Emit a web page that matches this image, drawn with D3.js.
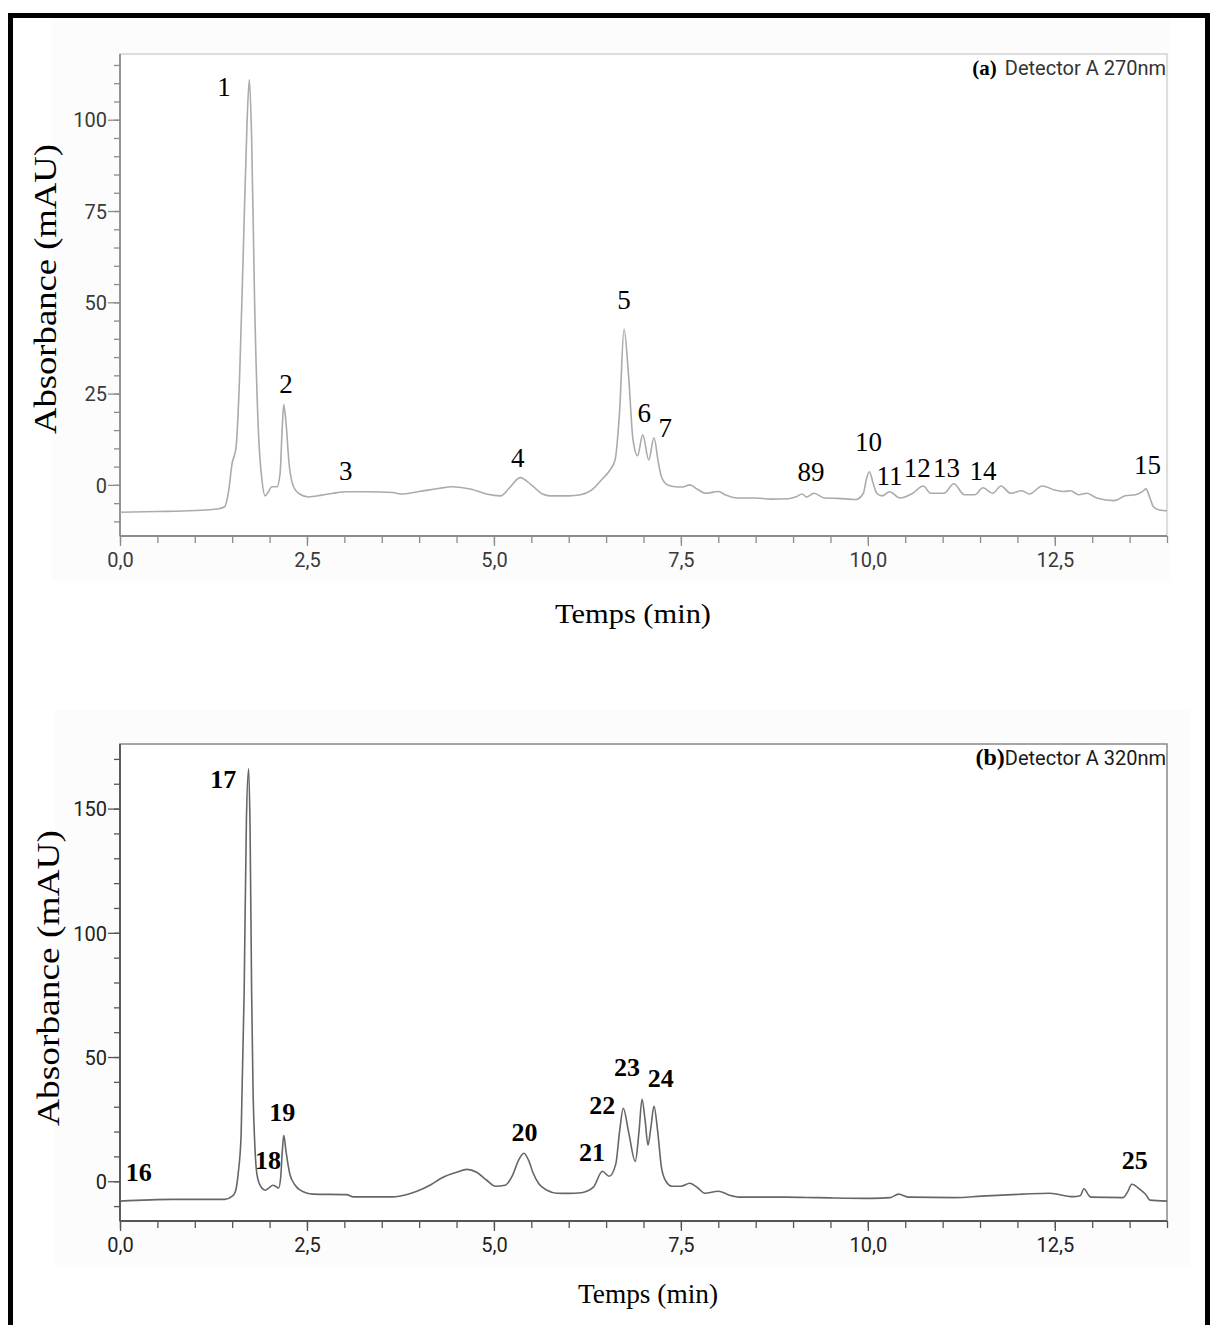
<!DOCTYPE html>
<html>
<head>
<meta charset="utf-8">
<script src="https://cdn.jsdelivr.net/npm/d3@7"></script>
<style>
  body { margin: 0; background: #fff; }
  svg { display: block; }
</style>
</head>
<body>
<div id="chart"></div>
<script>
// ---- data ----
// panel (a) : detector A 270 nm
var timeA = [0,0.5,1.0,1.3,1.40,1.45,1.50,1.55,1.60,1.65,1.70,1.73,1.76,1.80,1.85,1.90,1.94,1.98,2.03,2.10,
  2.14,2.17,2.19,2.22,2.26,2.32,2.40,2.52,2.70,2.85,3.03,3.3,3.65,3.75,4.0,4.25,4.44,4.7,4.9,5.09,
  5.2,5.35,5.5,5.65,5.75,6.0,6.16,6.3,6.44,6.55,6.62,6.68,6.74,6.80,6.86,6.92,6.99,7.07,7.14,7.20,
  7.24,7.32,7.42,7.52,7.62,7.72,7.83,8.0,8.1,8.25,8.5,8.7,8.94,9.05,9.12,9.18,9.28,9.42,9.6,9.84,
  9.94,9.98,10.02,10.07,10.12,10.19,10.29,10.43,10.6,10.74,10.84,11.02,11.15,11.29,11.43,11.54,11.67,11.78,11.91,12.06,
  12.16,12.33,12.5,12.62,12.71,12.82,12.93,13.06,13.3,13.44,13.58,13.66,13.72,13.77,13.82,13.9,14.0];
var absA = [-7.5,-7.3,-7.0,-6.6,-6.0,-2,6,10,30,65,100,111,95,50,15,1,-3,-2,-0.5,-0.5,
  3,16,22,17,6,-0.5,-2.5,-3.3,-2.8,-2.3,-1.9,-1.9,-2.1,-2.5,-1.8,-1.0,-0.5,-1.2,-2.5,-3,
  -1,2,0,-2.5,-3,-3,-2.7,-1.5,1.4,4,6.8,20,42.7,30,12.3,8,13.7,6.8,12.9,6,
  2.2,0,-0.5,-0.6,0,-1.2,-2.3,-1.8,-2.8,-3.6,-3.6,-3.9,-3.8,-3.2,-2.5,-3.3,-2.3,-3.6,-3.7,-4,
  -2.3,1.5,3.6,0.5,-2.3,-3,-1.9,-3.6,-2.3,-0.3,-2.3,-2.3,0.3,-2.7,-2.7,-0.8,-2.3,-0.3,-2.3,-1.6,
  -2.5,-0.3,-1.4,-1.8,-1.6,-2.7,-2.3,-3.6,-4.3,-3,-2.7,-2,-1.1,-3.5,-6,-6.9,-7.1];
var peakIdsA = ["1","2","3","4","5","6","7","8","9","10","11","12","13","14","15"];
var peakTimeA = [1.39,2.22,3.02,5.32,6.74,7.01,7.29,9.15,9.33,10.01,10.29,10.66,11.05,11.54,13.74];
var peakLabelA = [109,27.7,3.8,7.4,50.7,19.7,15.6,3.6,3.6,12,2.5,4.7,4.7,3.8,5.5];

// panel (b) : detector A 320 nm
var timeB = [0,0.7,1.4,1.5,1.54,1.58,1.62,1.66,1.69,1.72,1.74,1.76,1.78,1.80,1.83,1.88,1.94,2.0,2.04,2.09,
  2.12,2.15,2.17,2.19,2.22,2.27,2.34,2.41,2.58,3.03,3.12,3.65,3.8,3.97,4.15,4.32,4.5,4.64,4.77,4.9,
  5.02,5.15,5.25,5.33,5.40,5.47,5.52,5.6,5.71,5.84,6.0,6.17,6.33,6.45,6.54,6.63,6.68,6.73,6.80,6.89,
  6.94,6.98,7.02,7.06,7.10,7.14,7.19,7.24,7.30,7.38,7.5,7.62,7.72,7.82,8.0,8.15,8.3,8.9,9.33,10.06,
  10.3,10.41,10.55,11.16,11.52,12.07,12.43,12.74,12.84,12.89,12.95,12.98,13.41,13.47,13.53,13.65,13.72,13.77,14.0];
var absB = [-8,-7.3,-7.3,-6,-4.4,3,19,76,145,166,140,76,35,16.5,3,-2,-3.6,-2.5,-1.6,-2.2,
  -2.8,2,12,18.5,12,3,-1.5,-3.6,-5.2,-5.4,-6.3,-6.3,-5.6,-4,-1.5,1.6,3.6,4.8,3.6,0.5,
  -2,-1.6,2.5,8.5,11.3,8,3.6,-1,-3.6,-4.8,-4.9,-4.6,-2.4,4,2,7,20,29.4,20,8,
  20,33,25,14.5,22,30.2,20,5.6,0,-2,-2,-0.8,-2.5,-4.8,-4,-5.6,-6.4,-6.4,-6.6,-6.9,
  -6.6,-5.2,-6.4,-6.6,-6,-5.2,-4.8,-6.2,-5.8,-3.0,-5.5,-6.4,-6.6,-4.5,-1.2,-3.6,-5.5,-7.6,-8];
var peakIdsB = ["16","17","18","19","20","21","22","23","24","25"];
var peakTimeB = [0.25,1.38,1.98,2.17,5.41,6.31,6.45,6.78,7.23,13.57];
var peakLabelB = [3.6,162,8.5,27.8,20,12,30.6,46,41.5,8.5];

// axis ticks
var xMajor = [0,2.5,5,7.5,10,12.5];
var xMinor = d3.range(0, 14.01, 0.5);
var yMajorA = [0,25,50,75,100];
var yMinorA = d3.range(-10, 116, 5);
var yMajorB = [0,50,100,150];
var yMinorB = d3.range(-10, 171, 10);

var W = 1213, H = 1325;
var serif = "'Liberation Serif','Times New Roman',serif";
var sans = "Roboto,'Liberation Sans',Arial,sans-serif";

var svg = d3.select("#chart").append("svg")
  .attr("width", W).attr("height", H);

svg.append("rect").attr("width", W).attr("height", H).attr("fill", "#fff");

drawPanel({
  bg: [52, 17, 1118, 563],
  left: 120, right: 1167, top: 54, bottom: 536,
  yDomain: [-14, 118],
  yMajor: yMajorA, yMinor: yMinorA,
  time: timeA, abs: absA,
  ids: peakIdsA, pt: peakTimeA, pl: peakLabelA,
  lineColor: "#ababab", axisColor: "#8c8c8c", frameColor: "#d2d2d2", textColor: "#3a3a3a",
  bold: false, tag: "(a)", det: "Detector A 270nm", tagGap: 8,
  xLabelX: 633, xLabelY: 613, xLabelLen: 156,
  yLabelX: 45, yLabelY: 289, yLabelLen: 290
});

drawPanel({
  bg: [55, 710, 1135, 557],
  left: 120, right: 1167, top: 744, bottom: 1221,
  yDomain: [-16, 176],
  yMajor: yMajorB, yMinor: yMinorB,
  time: timeB, abs: absB,
  ids: peakIdsB, pt: peakTimeB, pl: peakLabelB,
  lineColor: "#666", axisColor: "#555", frameColor: "#888", textColor: "#222",
  bold: true, tag: "(b)", det: "Detector A 320nm", tagGap: 0,
  xLabelX: 648, xLabelY: 1293, xLabelLen: 140,
  yLabelX: 48, yLabelY: 978, yLabelLen: 296
});

// black frame round the whole figure
svg.append("rect")
  .attr("x", 10.5).attr("y", 15.5)
  .attr("width", 1197).attr("height", 1340)
  .attr("fill", "none").attr("stroke", "#000").attr("stroke-width", 5);

function drawPanel(p) {
  var g = svg.append("g");

  g.append("rect")
    .attr("x", p.bg[0]).attr("y", p.bg[1])
    .attr("width", p.bg[2]).attr("height", p.bg[3])
    .attr("fill", "#fcfcfc");

  var x = d3.scaleLinear().domain([0, 14]).range([p.left, p.right]);
  var y = d3.scaleLinear().domain(p.yDomain).range([p.bottom, p.top]);

  // plot area + light frame (top/right)
  g.append("rect")
    .attr("x", p.left).attr("y", p.top)
    .attr("width", p.right - p.left).attr("height", p.bottom - p.top)
    .attr("fill", "#fff").attr("stroke", p.frameColor).attr("stroke-width", 1.5);

  // minor ticks
  var xMin = g.append("g").attr("transform", "translate(0," + p.bottom + ")")
    .call(d3.axisBottom(x).tickValues(xMinor).tickSize(7).tickFormat(""));
  var yMin = g.append("g").attr("transform", "translate(" + p.left + ",0)")
    .call(d3.axisLeft(y).tickValues(p.yMinor).tickSize(6).tickFormat(""));

  // major ticks with labels
  var xAx = g.append("g").attr("transform", "translate(0," + p.bottom + ")")
    .call(d3.axisBottom(x).tickValues(xMajor).tickSize(10).tickPadding(7)
      .tickFormat(function(d) { return d.toFixed(1).replace(".", ","); }));
  var yAx = g.append("g").attr("transform", "translate(" + p.left + ",0)")
    .call(d3.axisLeft(y).tickValues(p.yMajor).tickSize(12).tickPadding(1)
      .tickFormat(d3.format("d")));

  [xMin, yMin, xAx, yAx].forEach(function(a) {
    a.select(".domain").remove();
    a.selectAll("line").attr("stroke", p.axisColor).attr("stroke-width", 1.3);
    a.selectAll("text").attr("fill", p.textColor)
      .style("font-family", sans).style("font-size", "20px");
  });
  yAx.selectAll("text").attr("dy", "0.36em");

  // axis lines
  g.append("line").attr("x1", p.left).attr("x2", p.right)
    .attr("y1", p.bottom).attr("y2", p.bottom)
    .attr("stroke", p.axisColor).attr("stroke-width", 2.2);
  g.append("line").attr("x1", p.left).attr("x2", p.left)
    .attr("y1", p.top).attr("y2", p.bottom)
    .attr("stroke", p.axisColor).attr("stroke-width", 1.8);

  // trace
  var pts = p.time.map(function(t, i) { return [t, p.abs[i]]; });
  var line = d3.line()
    .x(function(d) { return x(d[0]); })
    .y(function(d) { return y(d[1]); })
    .curve(d3.curveMonotoneX);
  g.append("path").datum(pts)
    .attr("d", line)
    .attr("fill", "none").attr("stroke", p.lineColor)
    .attr("stroke-width", 1.6).attr("stroke-linejoin", "round");

  // peak numbers
  g.selectAll("text.peak").data(p.ids).enter().append("text")
    .attr("class", "peak")
    .attr("x", function(d, i) { return x(p.pt[i]); })
    .attr("y", function(d, i) { return y(p.pl[i]); })
    .attr("dy", "0.35em")
    .attr("text-anchor", "middle")
    .style("font-family", serif)
    .style("font-size", p.bold ? "26px" : "27px")
    .style("font-weight", p.bold ? "bold" : "normal")
    .attr("fill", "#000")
    .text(function(d) { return d; });

  // detector caption, top right
  var cap = g.append("text")
    .attr("x", p.right - 1).attr("y", p.top + 21)
    .attr("text-anchor", "end");
  cap.append("tspan")
    .style("font-family", serif).style("font-weight", "bold")
    .style("font-size", p.bold ? "24px" : "21px")
    .attr("fill", "#000")
    .text(p.tag);
  cap.append("tspan")
    .attr("dx", p.tagGap)
    .style("font-family", sans).style("font-size", "20px")
    .attr("fill", p.bold ? "#1a1a1a" : "#333")
    .text(p.det);

  // axis titles
  g.append("text")
    .attr("x", p.xLabelX).attr("y", p.xLabelY).attr("dy", "0.35em")
    .attr("text-anchor", "middle")
    .attr("textLength", p.xLabelLen).attr("lengthAdjust", "spacingAndGlyphs")
    .style("font-family", serif).style("font-size", "28px")
    .text("Temps (min)");

  g.append("text")
    .attr("transform", "translate(" + p.yLabelX + "," + p.yLabelY + ") rotate(-90)")
    .attr("dy", "0.35em")
    .attr("text-anchor", "middle")
    .attr("textLength", p.yLabelLen).attr("lengthAdjust", "spacingAndGlyphs")
    .style("font-family", serif).style("font-size", "31px")
    .text("Absorbance (mAU)");
}
</script>
</body>
</html>
